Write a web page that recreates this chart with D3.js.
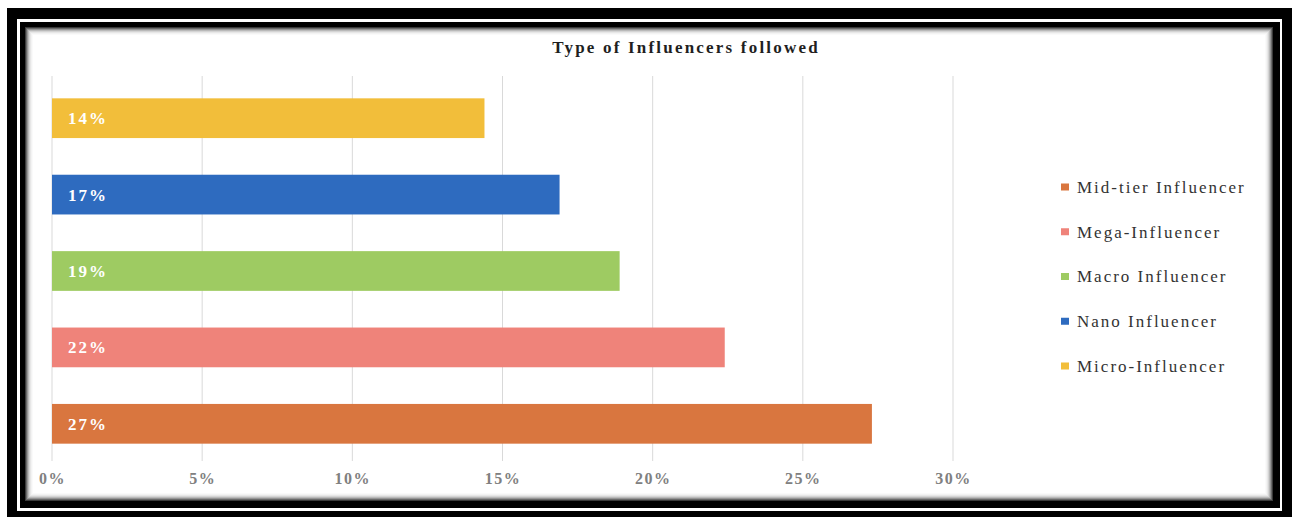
<!DOCTYPE html>
<html>
<head>
<meta charset="utf-8">
<script src="https://cdn.jsdelivr.net/npm/d3@7"></script>
<style>
  body { margin: 0; background: #fff; }
  svg text { font-family: "Liberation Serif", "Times New Roman", serif; }
</style>
</head>
<body>
<div id="chart"></div>
<script>
// data, top bar first
var categories = ["Micro-Influencer", "Nano Influencer", "Macro Influencer", "Mega-Influencer", "Mid-tier Influencer"];
var values = [14.4, 16.9, 18.9, 22.4, 27.3];
var valueLabels = ["14%", "17%", "19%", "22%", "27%"];
var colors = ["#F2BE3A", "#2E6BBF", "#9ECB62", "#EF837A", "#D9763F"];
var ticks = [0, 5, 10, 15, 20, 25, 30];
var legendOrder = ["Mid-tier Influencer", "Mega-Influencer", "Macro Influencer", "Nano Influencer", "Micro-Influencer"];

var W = 1292, H = 517;

var svg = d3.select("#chart")
  .append("svg")
    .attr("width", W)
    .attr("height", H);

// double black frame
svg.append("rect").attr("x", 7).attr("y", 8).attr("width", W - 7).attr("height", H - 8).style("fill", "#000");
svg.append("rect").attr("x", 17).attr("y", 19).attr("width", 1265).attr("height", 492).style("fill", "#fff");
svg.append("rect").attr("x", 20).attr("y", 22).attr("width", 1260).attr("height", 486).style("fill", "#000");

// inner panel with a soft shadow along the edges
var shadeSteps = ["#3a3a3a", "#6a6a6a", "#959595", "#b9b9b9", "#d4d4d4", "#e7e7e7", "#f3f3f3", "#fafafa"];
shadeSteps.forEach(function(c, i) {
  svg.append("rect")
    .attr("x", 25 + i).attr("y", 27 + i)
    .attr("width", 1248 - 2 * i)
    .attr("height", 474 - 2 * i)
    .style("fill", c);
});
svg.append("rect").attr("x", 33).attr("y", 35).attr("width", 1232).attr("height", 458).style("fill", "#fff");

// scales
var x = d3.scaleLinear()
  .domain([0, 30])
  .range([52, 953]);

var y = d3.scaleBand()
  .domain(categories)
  .range([80, 462])
  .paddingInner(0.48)
  .paddingOuter(0.24);

// gridlines
svg.append("g")
  .selectAll("line")
  .data(ticks)
  .enter()
  .append("line")
    .attr("x1", function(d) { return x(d) })
    .attr("x2", function(d) { return x(d) })
    .attr("y1", 76)
    .attr("y2", 461)
    .style("stroke", "#d9d9d9")
    .style("stroke-width", 1);

// x axis labels
var xAxis = svg.append("g")
  .attr("transform", "translate(0,461)")
  .call(d3.axisBottom(x).tickValues(ticks).tickSize(0).tickPadding(12).tickFormat(function(d) { return d + "%" }));
xAxis.select(".domain").remove();
xAxis.selectAll("text")
  .style("font-family", "'Liberation Serif', serif")
  .style("font-size", "16px")
  .style("font-weight", "bold")
  .style("letter-spacing", "1.5px")
  .style("fill", "#808080");

// bars
svg.append("g")
  .selectAll("rect")
  .data(categories)
  .enter()
  .append("rect")
    .attr("x", x(0))
    .attr("y", function(d) { return y(d) })
    .attr("width", function(d, i) { return x(values[i]) - x(0) })
    .attr("height", y.bandwidth())
    .style("fill", function(d, i) { return colors[i] });

// value labels inside the bars
svg.append("g")
  .selectAll("text")
  .data(categories)
  .enter()
  .append("text")
    .attr("x", x(0) + 16)
    .attr("y", function(d) { return y(d) + y.bandwidth() / 2 })
    .attr("dy", "0.35em")
    .style("font-size", "17px")
    .style("font-weight", "bold")
    .style("letter-spacing", "2px")
    .style("fill", "#fff")
    .text(function(d, i) { return valueLabels[i] });

// title
svg.append("text")
  .attr("x", 686)
  .attr("y", 47)
  .attr("dy", "0.35em")
  .attr("text-anchor", "middle")
  .style("font-size", "17px")
  .style("font-weight", "bold")
  .style("letter-spacing", "2.2px")
  .style("fill", "#1f1f1f")
  .text("Type of Influencers followed");

// legend
var legendY = d3.scalePoint()
  .domain(legendOrder)
  .range([187, 366]);

var legend = svg.append("g")
  .selectAll("g")
  .data(legendOrder)
  .enter()
  .append("g")
    .attr("transform", function(d) { return "translate(1061," + legendY(d) + ")" });

legend.append("rect")
  .attr("x", 0)
  .attr("y", -3.5)
  .attr("width", 8)
  .attr("height", 7)
  .style("fill", function(d) { return colors[categories.indexOf(d)] });

legend.append("text")
  .attr("x", 16)
  .attr("dy", "0.35em")
  .style("font-size", "17px")
  .style("letter-spacing", "2px")
  .style("fill", "#333")
  .text(function(d) { return d });
</script>
</body>
</html>
